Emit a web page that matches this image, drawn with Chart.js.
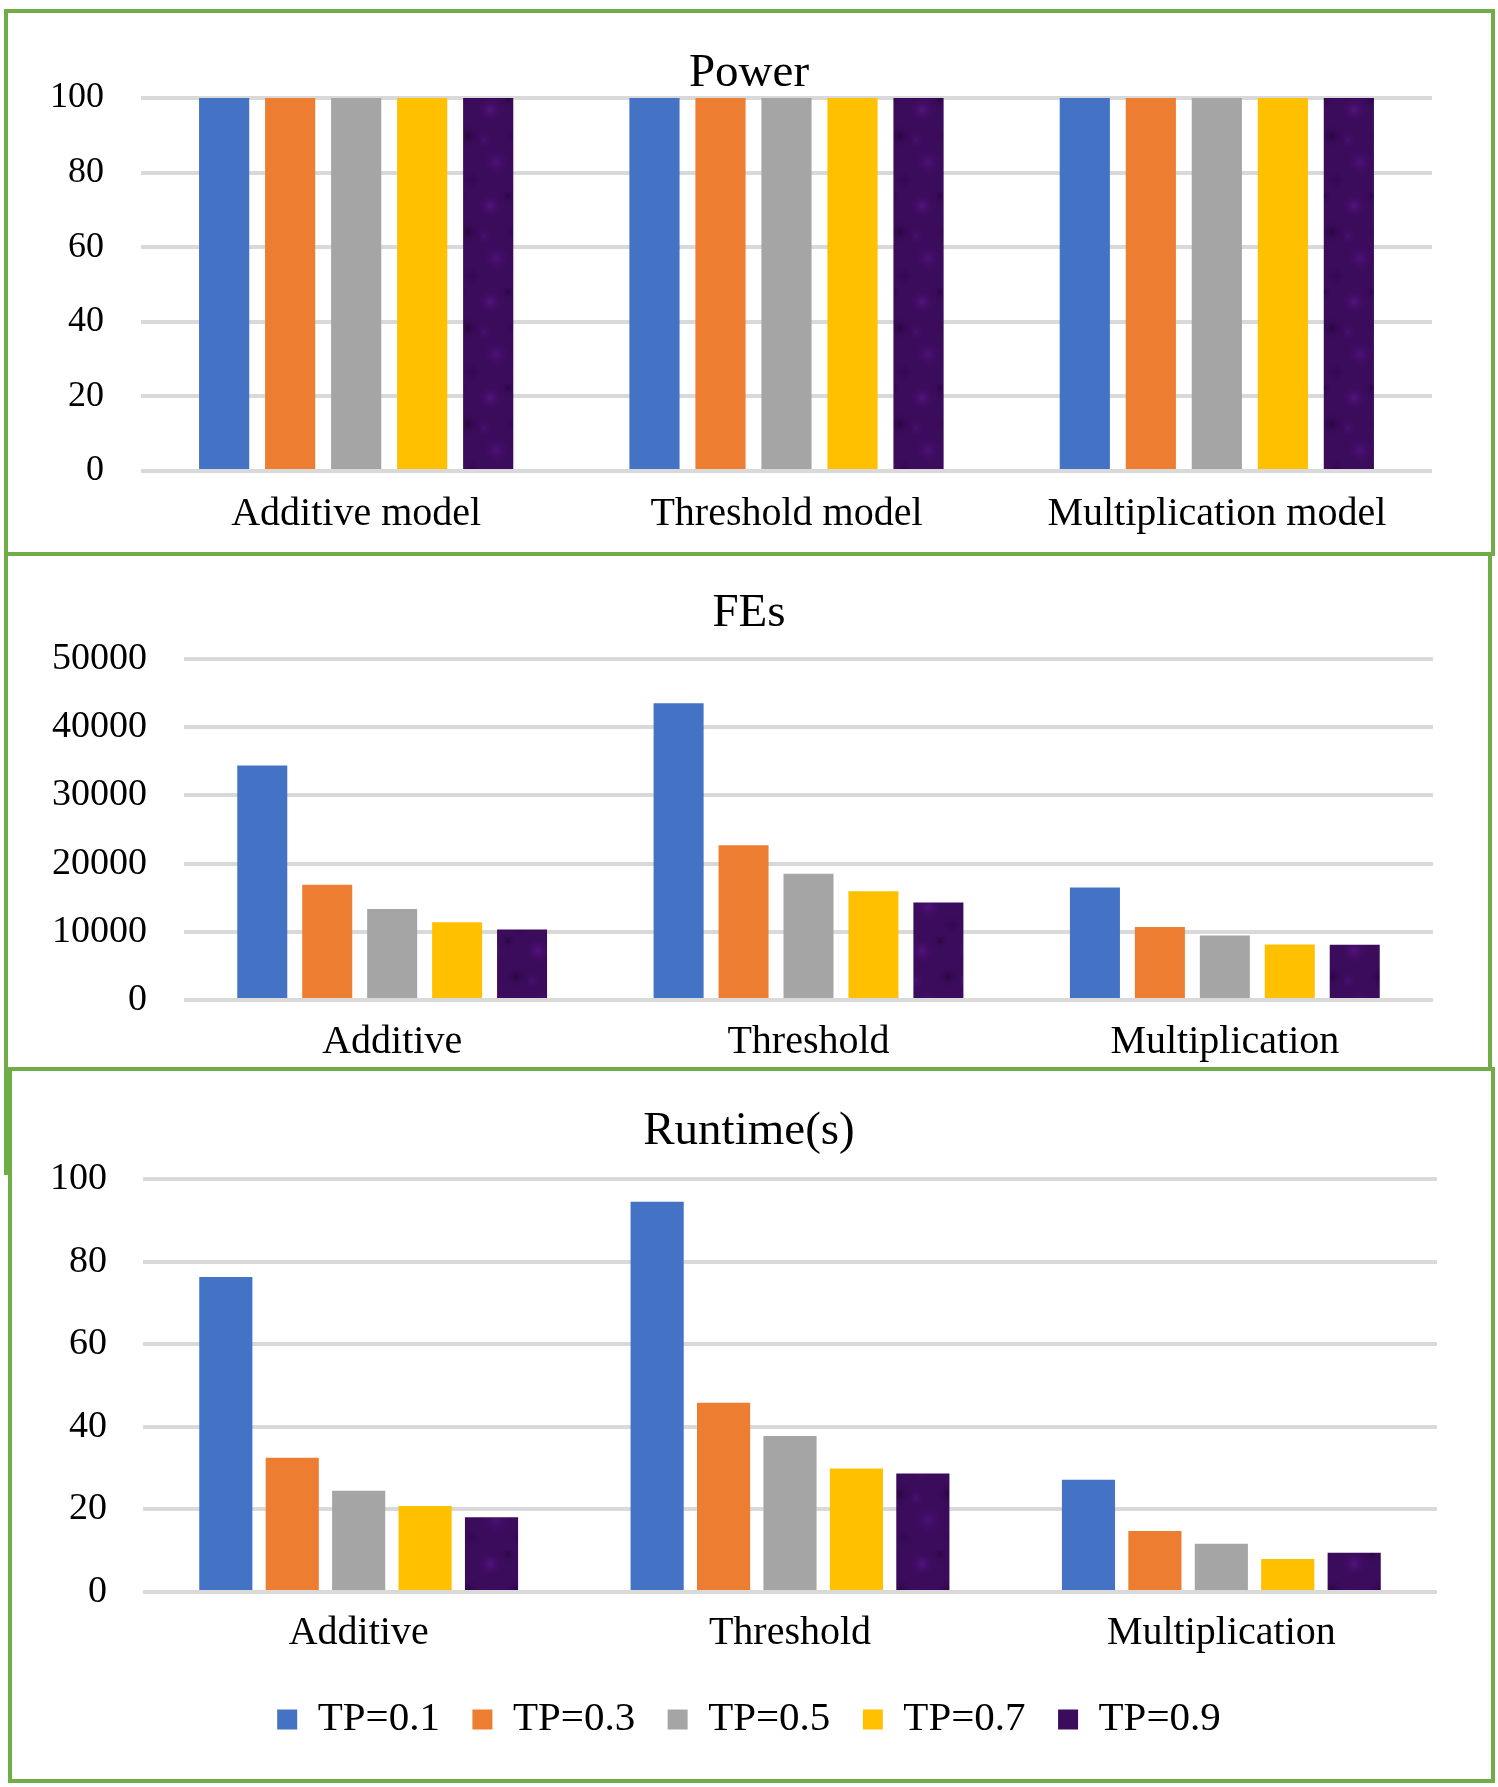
<!DOCTYPE html>
<html>
<head>
<meta charset="utf-8">
<script src="https://cdn.jsdelivr.net/npm/chart.js@4.4.1/dist/chart.umd.min.js"></script>
<style>
  html, body { margin: 0; padding: 0; background: #fff; }
  body { width: 1498px; height: 1787px; position: relative; overflow: hidden; }
  canvas { position: absolute; left: 0; }
  .box { position: absolute; box-sizing: border-box; border: 4px solid #70ad47; pointer-events: none; }
  .line { position: absolute; background: #70ad47; }
</style>
</head>
<body>
<canvas id="powerChart" width="1498" height="553" style="top:0px;width:1498px;height:553px"></canvas>
<canvas id="fesChart" width="1498" height="515" style="top:553px;width:1498px;height:515px"></canvas>
<canvas id="runtimeChart" width="1498" height="717" style="top:1070px;width:1498px;height:717px"></canvas>

<div class="box" style="left:4px;top:9px;width:1491px;height:547px"></div>
<div class="box" style="left:4px;top:552px;width:1488px;height:519px"></div>
<div class="line" style="left:4px;top:1071px;width:4px;height:104px"></div>
<div class="box" style="left:8px;top:1067px;width:1487px;height:716px"></div>

<script>
  // data
  const powerCategories = ["Additive model", "Threshold model", "Multiplication model"];
  const modelCategories = ["Additive", "Threshold", "Multiplication"];
  const seriesNames = ["TP=0.1", "TP=0.3", "TP=0.5", "TP=0.7", "TP=0.9"];

  const powerTP01 = [100, 100, 100];
  const powerTP03 = [100, 100, 100];
  const powerTP05 = [100, 100, 100];
  const powerTP07 = [100, 100, 100];
  const powerTP09 = [100, 100, 100];

  const fesTP01 = [34400, 43500, 16500];
  const fesTP03 = [16900, 22700, 10700];
  const fesTP05 = [13350, 18500, 9450];
  const fesTP07 = [11400, 15950, 8150];
  const fesTP09 = [10350, 14300, 8100];

  const runtimeTP01 = [76.3, 94.5, 27.2];
  const runtimeTP03 = [32.5, 45.8, 14.8];
  const runtimeTP05 = [24.5, 37.8, 11.7];
  const runtimeTP07 = [20.8, 29.9, 8.0];
  const runtimeTP09 = [18.1, 28.7, 9.5];

  const powerTicks = [0, 20, 40, 60, 80, 100];
  const fesTicks = [0, 10000, 20000, 30000, 40000, 50000];
  const runtimeTicks = [0, 20, 40, 60, 80, 100];

  const FONT = "'Liberation Serif', 'Times New Roman', serif";

  // mottled dark purple fill like the last series in the figure
  const purpleFill = (() => {
    const c = document.createElement("canvas");
    c.width = 48; c.height = 96;
    const g = c.getContext("2d");
    g.fillStyle = "#3b0b5c";
    g.fillRect(0, 0, 48, 96);
    const spots = [[10, 14, 14, "#55137f"], [36, 40, 12, "#2a0642"], [16, 66, 16, "#4d1178"],
                   [40, 84, 10, "#300850"], [28, 4, 9, "#2c0745"], [4, 44, 10, "#481070"]];
    spots.forEach(([x, y, r, col]) => {
      const rg = g.createRadialGradient(x, y, 0, x, y, r);
      rg.addColorStop(0, col);
      rg.addColorStop(1, "rgba(59,11,92,0)");
      g.fillStyle = rg;
      g.fillRect(0, 0, 48, 96);
    });
    return g.createPattern(c, "repeat");
  })();

  const seriesColors = ["#4472c4", "#ed7d31", "#a5a5a5", "#ffc000", "#3b0b5c"];

  const makeSets = (series, catPct, barPct) =>
    series.map((values, i) => ({
      label: seriesNames[i],
      data: values,
      backgroundColor: i === 4 ? (ctx) => (ctx.type === "data" ? purpleFill : seriesColors[i]) : seriesColors[i],
      borderWidth: 0,
      categoryPercentage: catPct,
      barPercentage: barPct,
    }));

  const drawChart = (id, labels, series, ticks, L) => {
    return new Chart(document.getElementById(id), {
      type: "bar",
      data: { labels: labels, datasets: makeSets(series, L.catPct, L.barPct) },
      options: {
        responsive: false,
        animation: false,
        devicePixelRatio: 1,
        layout: { padding: { left: 0, right: 0, top: 0, bottom: L.padBottom } },
        plugins: {
          title: {
            display: true,
            text: L.title,
            color: "#000",
            font: { family: FONT, size: 47, weight: "normal", lineHeight: 1 },
            padding: { top: L.titleTop, bottom: L.titleBottom },
          },
          legend: {
            display: L.legend,
            position: "bottom",
            labels: {
              color: "#000",
              font: { family: FONT, size: 41 },
              boxWidth: 20,
              boxHeight: 20,
              padding: 32.5,
              generateLabels: (chart) =>
                chart.data.datasets.map((ds, i) => ({
                  text: ds.label,
                  fillStyle: seriesColors[i],
                  strokeStyle: seriesColors[i],
                  lineWidth: 0,
                  fontColor: "#000",
                  datasetIndex: i,
                })),
            },
          },
          tooltip: { enabled: false },
        },
        scales: {
          x: {
            grid: { display: false, drawTicks: false },
            border: { display: false },
            ticks: {
              color: "#000",
              font: { family: FONT, size: 40, lineHeight: 1.2 },
              padding: L.xPad,
              maxRotation: 0,
            },
            afterFit: (s) => { s.height = L.xHeight; },
          },
          y: {
            min: ticks[0],
            max: ticks[ticks.length - 1],
            grid: { color: "#d9d9d9", lineWidth: 4, drawTicks: false },
            border: { display: false },
            ticks: {
              color: "#000",
              font: { family: FONT, size: L.yFont },
              padding: L.yPad,
              callback: (v) => String(v),
            },
            afterBuildTicks: (s) => { s.ticks = ticks.map((v) => ({ value: v })); },
            afterFit: (s) => { s.width = L.yWidth; },
          },
          yRight: {
            type: "linear",
            position: "right",
            grid: { display: false, drawTicks: false },
            border: { display: false },
            ticks: { display: false },
            afterFit: (s) => { s.width = L.rightGap; },
          },
        },
      },
    });
  };

  drawChart("powerChart", powerCategories,
    [powerTP01, powerTP03, powerTP05, powerTP07, powerTP09], powerTicks, {
      title: "Power", titleTop: 50.2, titleBottom: 0.8,
      xHeight: 82, xPad: 19.8, yWidth: 141, yPad: 37, yFont: 36,
      rightGap: 66, padBottom: 0, legend: false, catPct: 0.767, barPct: 0.76,
    });

  drawChart("fesChart", modelCategories,
    [fesTP01, fesTP03, fesTP05, fesTP07, fesTP09], fesTicks, {
      title: "FEs", titleTop: 37.2, titleBottom: 21.8,
      xHeight: 68, xPad: 18.8, yWidth: 184, yPad: 37, yFont: 38,
      rightGap: 65, padBottom: 0, legend: false, catPct: 0.78, barPct: 0.77,
    });

  drawChart("runtimeChart", modelCategories,
    [runtimeTP01, runtimeTP03, runtimeTP05, runtimeTP07, runtimeTP09], runtimeTicks, {
      title: "Runtime(s)", titleTop: 38, titleBottom: 24,
      xHeight: 74.4, xPad: 17.8, yWidth: 143, yPad: 36, yFont: 38,
      rightGap: 61, padBottom: 37.1, legend: true, catPct: 0.77, barPct: 0.8,
    });
</script>
</body>
</html>
